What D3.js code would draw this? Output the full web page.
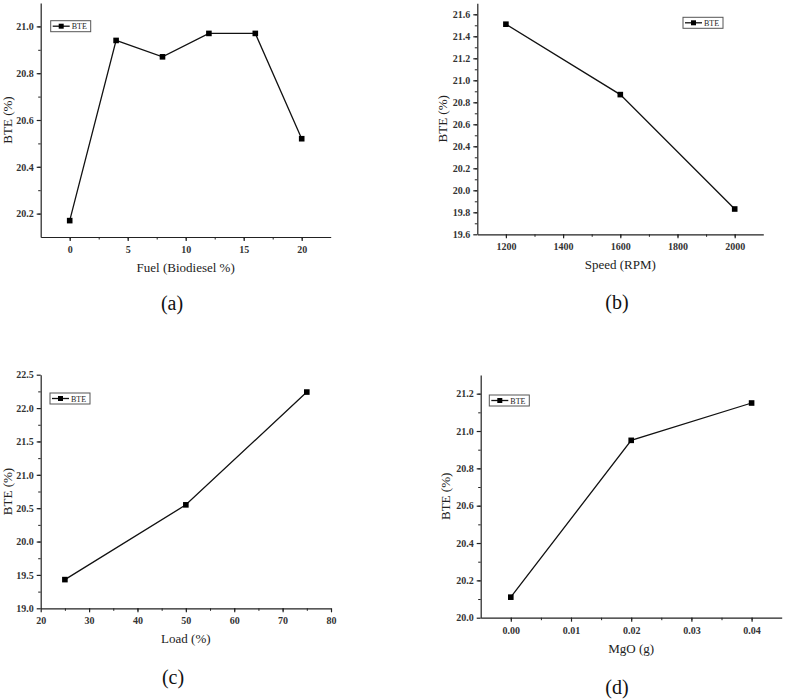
<!DOCTYPE html>
<html>
<head>
    <script src="https://cdnjs.cloudflare.com/ajax/libs/d3/7.8.5/d3.min.js"></script>
    <style>
        body { margin: 0; background: #fff; }
        svg { display: block; font-family: "Liberation Serif", "Times New Roman", serif; }
        .tick text { font-size: 10px; font-weight: bold; fill: #333; }
        .axis path, .axis line { stroke: #222; stroke-width: 1.2; }
        .minor path { stroke: none; }
        .minor line { stroke: #222; stroke-width: 1; }
    </style>
</head>
<body>
<svg id="chart" width="785" height="699"></svg>
<script>
    const serif = "Liberation Serif, Times New Roman, serif";

    // (a) fuel blend
    const fuelX = [0, 4, 8, 12, 16, 20];
    const fuelBTE = [20.17, 20.94, 20.87, 20.97, 20.97, 20.52];
    const fuelXTicks = [0, 5, 10, 15, 20];
    const fuelYTicks = [20.2, 20.4, 20.6, 20.8, 21.0];

    // (b) engine speed
    const speedX = [1200, 1600, 2000];
    const speedBTE = [21.51, 20.87, 19.83];
    const speedXTicks = [1200, 1400, 1600, 1800, 2000];
    const speedYTicks = [19.6, 19.8, 20.0, 20.2, 20.4, 20.6, 20.8, 21.0, 21.2, 21.4, 21.6];

    // (c) load
    const loadX = [25, 50, 75];
    const loadBTE = [19.43, 20.55, 22.24];
    const loadXTicks = [20, 30, 40, 50, 60, 70, 80];
    const loadYTicks = [19.0, 19.5, 20.0, 20.5, 21.0, 21.5, 22.0, 22.5];

    // (d) MgO dosage
    const mgoX = [0, 0.02, 0.04];
    const mgoBTE = [20.11, 20.95, 21.15];
    const mgoXTicks = [0, 0.01, 0.02, 0.03, 0.04];
    const mgoYTicks = [20.0, 20.2, 20.4, 20.6, 20.8, 21.0, 21.2];

    const svg = d3.select("#chart");

    function drawPanel(p) {
        const x = d3.scaleLinear().domain(p.xDomain).range([p.left, p.right]);
        const y = d3.scaleLinear().domain(p.yDomain).range([p.bottom, p.top]);

        // minor ticks
        const xMinor = d3.range(p.xDomain[0], p.xDomain[1] + 1e-9, p.xMinorStep)
            .map(v => Math.round(v / p.xMinorStep) * p.xMinorStep)
            .filter(v => v > p.xDomain[0] + 1e-9 && v < p.xDomain[1] - 1e-9);
        const yMinor = d3.range(p.yDomain[0], p.yDomain[1] + 1e-9, p.yMinorStep)
            .map(v => Math.round(v / p.yMinorStep) * p.yMinorStep)
            .filter(v => v > p.yDomain[0] + 1e-9 && v < p.yDomain[1] - 1e-9);

        svg.append("g")
            .attr("class", "minor")
            .attr("transform", `translate(0,${p.bottom})`)
            .call(d3.axisBottom(x).tickValues(xMinor).tickSize(2.5).tickSizeOuter(0).tickFormat(""));
        svg.append("g")
            .attr("class", "minor")
            .attr("transform", `translate(${p.left},0)`)
            .call(d3.axisLeft(y).tickValues(yMinor).tickSize(2.5).tickSizeOuter(0).tickFormat(""));

        // major axes
        svg.append("g")
            .attr("class", "axis")
            .attr("transform", `translate(0,${p.bottom})`)
            .call(d3.axisBottom(x).tickValues(p.xTicks).tickSize(4).tickSizeOuter(0)
                .tickPadding(5).tickFormat(p.xFormat))
            .attr("font-family", serif);
        svg.append("g")
            .attr("class", "axis")
            .attr("transform", `translate(${p.left},0)`)
            .call(d3.axisLeft(y).tickValues(p.yTicks).tickSize(4).tickSizeOuter(0)
                .tickPadding(3).tickFormat(d3.format(".1f")))
            .attr("font-family", serif);

        // line + markers
        const pts = p.xs.map((v, i) => [v, p.ys[i]]);
        svg.append("path")
            .datum(pts)
            .attr("fill", "none")
            .attr("stroke", "#111")
            .attr("stroke-width", 1.3)
            .attr("d", d3.line().x(d => x(d[0])).y(d => y(d[1])));
        svg.selectAll(null)
            .data(pts)
            .enter().append("rect")
            .attr("x", d => x(d[0]) - 2.8)
            .attr("y", d => y(d[1]) - 2.8)
            .attr("width", 5.6)
            .attr("height", 5.6)
            .attr("fill", "#000");

        // axis titles
        svg.append("text")
            .attr("x", (p.left + p.right) / 2)
            .attr("y", p.bottom + 35)
            .attr("text-anchor", "middle")
            .attr("font-size", 13)
            .attr("fill", "#222")
            .text(p.xTitle);
        svg.append("text")
            .attr("transform", `translate(${p.yTitleX},${(p.top + p.bottom) / 2}) rotate(-90)`)
            .attr("text-anchor", "middle")
            .attr("font-size", 13)
            .attr("fill", "#222")
            .text("BTE (%)");

        // panel letter
        svg.append("text")
            .attr("x", p.letterX)
            .attr("y", p.letterY)
            .attr("text-anchor", "middle")
            .attr("font-size", 20)
            .attr("fill", "#111")
            .text(p.letter);

        // legend
        const lg = svg.append("g").attr("transform", `translate(${p.legX},${p.legY})`);
        lg.append("rect")
            .attr("width", 40).attr("height", 11)
            .attr("fill", "#fff").attr("stroke", "#555").attr("stroke-width", 1);
        lg.append("line")
            .attr("x1", 2).attr("x2", 19).attr("y1", 5.5).attr("y2", 5.5)
            .attr("stroke", "#111").attr("stroke-width", 1.3);
        lg.append("rect")
            .attr("x", 8).attr("y", 3).attr("width", 5).attr("height", 5).attr("fill", "#000");
        lg.append("text")
            .attr("x", 21).attr("y", 8.5)
            .attr("font-size", 8).attr("fill", "#222")
            .text("BTE");
    }

    drawPanel({
        xs: fuelX, ys: fuelBTE, xTicks: fuelXTicks, yTicks: fuelYTicks,
        xDomain: [-2.5, 22.5], yDomain: [20.1, 21.1], xMinorStep: 2.5, yMinorStep: 0.1,
        left: 40.7, right: 330.7, top: 3, bottom: 237,
        xFormat: d3.format("d"), xTitle: "Fuel (Biodiesel %)", yTitleX: 12,
        letter: "(a)", letterX: 172, letterY: 310, legX: 50.7, legY: 20.7
    });
    drawPanel({
        xs: speedX, ys: speedBTE, xTicks: speedXTicks, yTicks: speedYTicks,
        xDomain: [1100, 2100], yDomain: [19.6, 21.7], xMinorStep: 100, yMinorStep: 0.1,
        left: 477.3, right: 763.3, top: 3.3, bottom: 234.3,
        xFormat: d3.format("d"), xTitle: "Speed (RPM)", yTitleX: 447,
        letter: "(b)", letterX: 617, letterY: 309, legX: 683, legY: 17.3
    });
    drawPanel({
        xs: loadX, ys: loadBTE, xTicks: loadXTicks, yTicks: loadYTicks,
        xDomain: [20, 80], yDomain: [19.0, 22.5], xMinorStep: 5, yMinorStep: 0.25,
        left: 40.7, right: 331, top: 374.7, bottom: 608.3,
        xFormat: d3.format("d"), xTitle: "Load (%)", yTitleX: 12,
        letter: "(c)", letterX: 173, letterY: 684, legX: 50, legY: 393
    });
    drawPanel({
        xs: mgoX, ys: mgoBTE, xTicks: mgoXTicks, yTicks: mgoYTicks,
        xDomain: [-0.005, 0.045], yDomain: [20.0, 21.3], xMinorStep: 0.005, yMinorStep: 0.1,
        left: 480.7, right: 781.7, top: 375, bottom: 617.7,
        xFormat: d3.format(".2f"), xTitle: "MgO (g)", yTitleX: 450,
        letter: "(d)", letterX: 617, letterY: 694, legX: 489.3, legY: 395
    });
</script>
</body>
</html>
